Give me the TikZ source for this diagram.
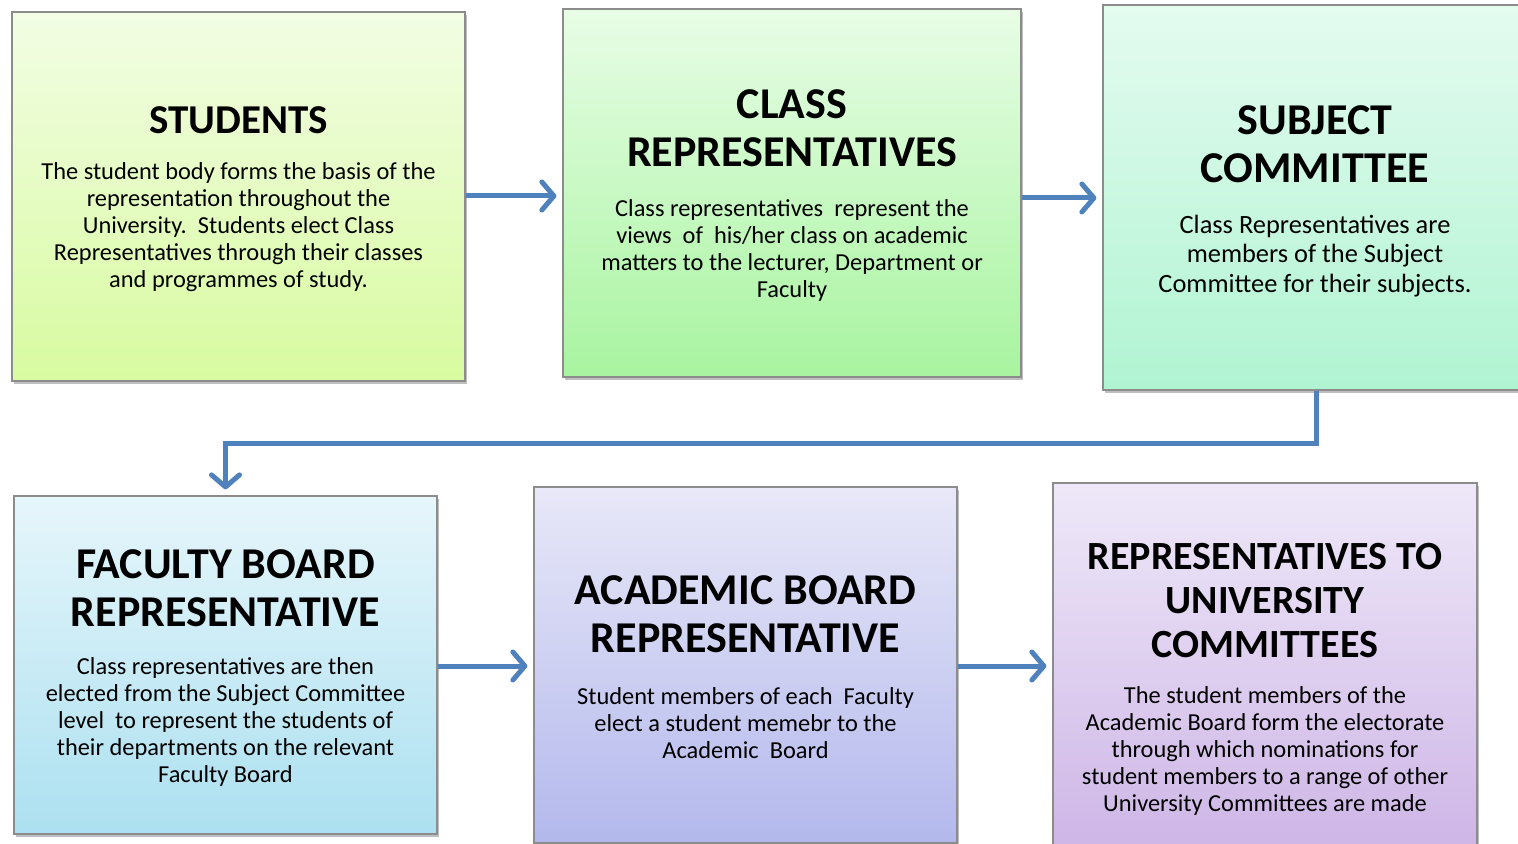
\documentclass[tikz,border=0pt]{standalone}
\usepackage{fontspec}
\setmainfont{Carlito}
\usetikzlibrary{fit}
\usetikzlibrary{arrows.meta}
\usetikzlibrary{shadows}
\definecolor{linkblue}{RGB}{79,129,189}
\definecolor{frame}{RGB}{140,140,140}
\tikzset{
	box/.style={draw=frame, line width=.6pt, inner sep=0pt,
		drop shadow={shadow xshift=1pt, shadow yshift=-1.5pt, opacity=.25, fill=black}},
	head/.style={font=\fontsize{22}{24}\selectfont\bfseries, align=center},
	body/.style={font=\fontsize{12.2}{13.5}\selectfont, align=center},
	link/.style={draw=linkblue, line width=2.5pt, -{Straight Barb[length=6pt,width=14pt,round]}, shorten >=3pt},
}

\begin{document}
\begin{tikzpicture}[x=.5pt, y=-.5pt]
	\useasboundingbox (0,0) rectangle (1518,844);

	% top row
	\node[box, top color={rgb,255:red,242;green,253;blue,228}, bottom color={rgb,255:red,216;green,251;blue,160},
		fit={(12,12) (465,381)}] (stud) {};
	\node[head, font=\fontsize{20.5}{24}\selectfont\bfseries] (studH) at (238.5,120) {STUDENTS};
	\node[body] (studB) at (238.5,227) {The student body forms the basis of the\\ representation throughout the\\ University.\ \ Students elect Class\\ Representatives through their classes\\ and programmes of study.};

	\node[box, top color={rgb,255:red,232;green,253;blue,230}, bottom color={rgb,255:red,168;green,244;blue,160},
		fit={(563,9) (1021,377)}] (cls) {};
	\node[head] (clsH) at (792,128) {CLASS\\ REPRESENTATIVES};
	\node[body] (clsB) at (792,250) {Class representatives\ \ represent the\\ views\ \ of\ \ his/her class on academic\\ matters to the lecturer, Department or\\ Faculty};

	\node[box, top color={rgb,255:red,228;green,251;blue,240}, bottom color={rgb,255:red,176;green,244;blue,210},
		fit={(1103,5) (1530,390)}] (subj) {};
	\node[head] (subjH) at (1315,144) {SUBJECT\\ COMMITTEE};
	\node[body, font=\fontsize{13.2}{14.7}\selectfont] (subjB) at (1315,256) {Class Representatives are\\ members of the Subject\\ Committee for their subjects.};

	% bottom row
	\node[box, top color={rgb,255:red,230;green,246;blue,251}, bottom color={rgb,255:red,172;green,224;blue,240},
		fit={(14,496) (437,834)}] (fac) {};
	\node[head] (facH) at (225.5,588.5) {FACULTY BOARD\\ REPRESENTATIVE};
	\node[body] (facB) at (225.5,722) {Class representatives are then\\ elected from the Subject Committee\\ level\ \ to represent the students of\\ their departments on the relevant\\ Faculty Board};

	\node[box, top color={rgb,255:red,232;green,232;blue,248}, bottom color={rgb,255:red,179;green,184;blue,236},
		fit={(534,487) (957,843)}] (acad) {};
	\node[head] (acadH) at (745.5,614.5) {ACADEMIC BOARD\\ REPRESENTATIVE};
	\node[body] (acadB) at (745.5,723) {Student members of each\ \ Faculty\\ elect a student memebr to the\\ Academic\ \ Board};

	\node[box, top color={rgb,255:red,238;green,232;blue,248}, bottom color={rgb,255:red,205;green,180;blue,230},
		fit={(1053,483) (1477,860)}] (univ) {};
	\node[head, font=\fontsize{20}{22}\selectfont\bfseries] (univH) at (1265,601) {REPRESENTATIVES TO\\ UNIVERSITY\\ COMMITTEES};
	\node[body] (univB) at (1265,751) {The student members of the\\ Academic Board form the electorate\\ through which nominations for\\ student members to a range of other\\ University Committees are made};

	\draw[link] (stud.east |- 0,196) -- (cls.west |- 0,196);	% arrows
	\draw[link] (cls.east |- 0,198) -- (subj.west |- 0,198);
	\draw[link] (subj.south -| 1316,0) -- ++(0,53) -| (fac.north);
	\draw[link] (fac.east |- 0,666) -- (acad.west |- 0,666);
	\draw[link] (acad.east |- 0,666) -- (univ.west |- 0,666);
\end{tikzpicture}
\end{document}
